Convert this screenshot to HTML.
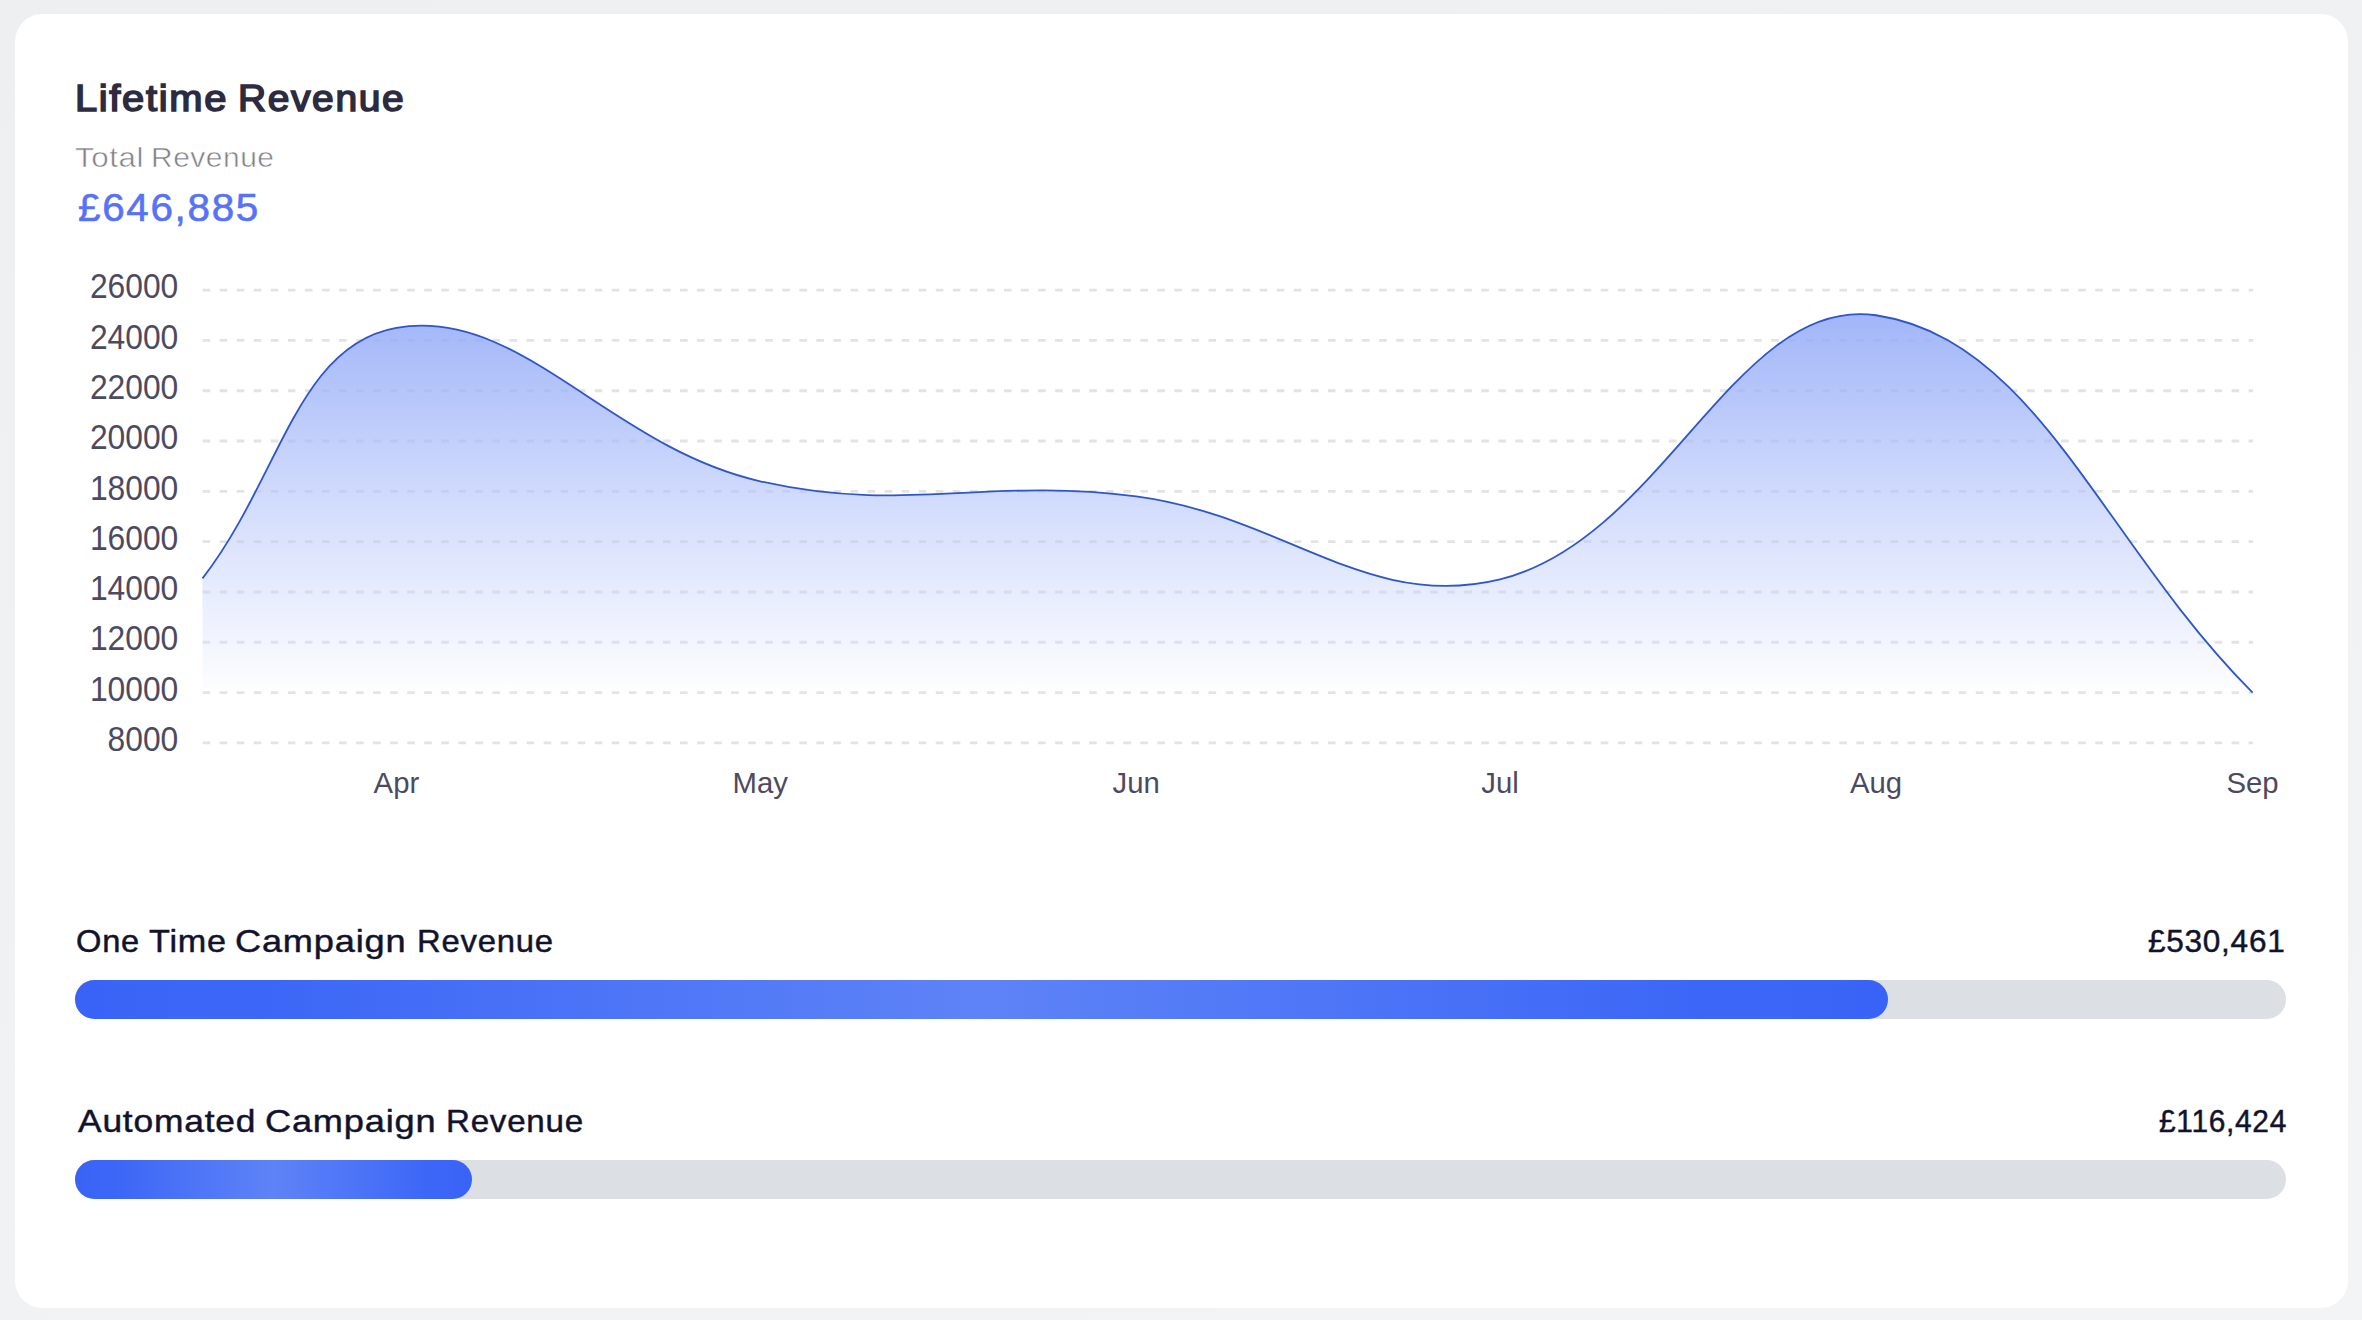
<!DOCTYPE html>
<html lang="en">
<head>
<meta charset="utf-8">
<title>Lifetime Revenue</title>
<style>
html,body{margin:0;padding:0;}
html{background:#f0f1f3;}
body{width:2362px;height:1320px;overflow:hidden;position:relative;
 font-family:"Liberation Sans",sans-serif;}
.bg{position:absolute;left:0;top:0;width:2362px;height:1320px;background:linear-gradient(164deg,#eeeff1 0%,#f3f4f6 100%);}
.ln{margin:0;padding:0;font-size:0;line-height:0;font-weight:400;}
.card{position:absolute;left:14.5px;top:14px;width:2333.5px;height:1294px;background:#fff;border-radius:27.5px;}
.t{position:absolute;white-space:nowrap;line-height:1;margin:0;transform-origin:0 0;}
.title{font-weight:400;color:#2c2b3f;-webkit-text-stroke:1.55px #2c2b3f;}
.sub{font-weight:400;color:#808085;-webkit-text-stroke:0.55px #fff;}
.amt{font-weight:400;color:#5872f7;-webkit-text-stroke:0.6px #5872f7;}
.lab{font-weight:400;color:#11132d;-webkit-text-stroke:0.45px #11132d;}
.track{position:absolute;left:75.2px;width:2210.8px;height:39px;border-radius:19.5px;background:#dcdfe4;}
.fill{position:absolute;left:0;top:0;height:39px;border-radius:19.5px;
 background:linear-gradient(90deg,#3863f6 0%,#3d68f6 12%,#5e83f7 50%,#3d68f6 88%,#3863f6 100%);}
svg{position:absolute;left:0;top:0;}
svg text{font-family:"Liberation Sans",sans-serif;fill:#4c4a61;}
</style>
</head>
<body>
<div class="bg"></div>
<div class="card"></div>
<h1 class="ln" id="title"><span class="t title" id="t1" style="left:75.26px;top:81.03px;font-size:36.0px;letter-spacing:1.5px;transform:scaleX(1.1081)">Lifetime</span> <span class="t title" id="t2" style="left:238.29px;top:81.03px;font-size:36.0px;letter-spacing:1.5px;transform:scaleX(1.0816)">Revenue</span></h1>
<p class="ln" id="sub"><span class="t sub" id="s1" style="left:75.21px;top:142.97px;font-size:28.5px;letter-spacing:0.5px;transform:scaleX(1.1000)">Total</span> <span class="t sub" id="s2" style="left:150.67px;top:142.97px;font-size:28.5px;letter-spacing:0.5px;transform:scaleX(1.0504)">Revenue</span></p>
<p class="ln" id="amt"><span class="t amt" id="a1" style="left:77.77px;top:189.41px;font-size:38.5px;letter-spacing:1.6px;transform:scaleX(1.0494)">£646,885</span></p>
<svg width="2362" height="1320" viewBox="0 0 2362 1320">
<defs>
<linearGradient id="ga" gradientUnits="userSpaceOnUse" x1="0" y1="314" x2="0" y2="706">
<stop offset="0.0000" stop-color="#92aaf8" stop-opacity="0.860"/>
<stop offset="0.0833" stop-color="#97aef8" stop-opacity="0.816"/>
<stop offset="0.1667" stop-color="#9cb1f9" stop-opacity="0.771"/>
<stop offset="0.2500" stop-color="#a1b5f9" stop-opacity="0.724"/>
<stop offset="0.3333" stop-color="#a6baf9" stop-opacity="0.674"/>
<stop offset="0.4167" stop-color="#acbefa" stop-opacity="0.622"/>
<stop offset="0.5000" stop-color="#b2c3fa" stop-opacity="0.567"/>
<stop offset="0.5833" stop-color="#b9c8fa" stop-opacity="0.509"/>
<stop offset="0.6667" stop-color="#c0cefb" stop-opacity="0.445"/>
<stop offset="0.7500" stop-color="#c9d4fb" stop-opacity="0.374"/>
<stop offset="0.8333" stop-color="#d3dcfc" stop-opacity="0.293"/>
<stop offset="0.9167" stop-color="#e0e6fd" stop-opacity="0.194"/>
<stop offset="1.0000" stop-color="#ffffff" stop-opacity="0.000"/>
</linearGradient>
</defs>
<g stroke="#e3e3e3" stroke-width="2.9" stroke-dasharray="7.6 9.45" fill="none">
<line x1="202.6" y1="290.10" x2="2253.0" y2="290.10"/>
<line x1="202.6" y1="340.41" x2="2253.0" y2="340.41"/>
<line x1="202.6" y1="390.72" x2="2253.0" y2="390.72"/>
<line x1="202.6" y1="441.03" x2="2253.0" y2="441.03"/>
<line x1="202.6" y1="491.34" x2="2253.0" y2="491.34"/>
<line x1="202.6" y1="541.65" x2="2253.0" y2="541.65"/>
<line x1="202.6" y1="591.96" x2="2253.0" y2="591.96"/>
<line x1="202.6" y1="642.27" x2="2253.0" y2="642.27"/>
<line x1="202.6" y1="692.58" x2="2253.0" y2="692.58"/>
<line x1="202.6" y1="742.89" x2="2253.0" y2="742.89"/>
</g>
<path d="M202.5,578.40 C280.06,478.17 297.09,345.13 396.4,327.83 C520.17,306.28 608.68,446.76 760.2,481.28 C904.60,514.18 987.62,476.67 1136.2,496.37 C1283.54,515.91 1367.38,611.85 1500.0,579.38 C1663.30,539.40 1736.64,294.29 1876.0,315.25 C2037.68,339.57 2101.96,541.65 2252.6,692.58 L2252.6,742.9 L202.5,742.9 Z" fill="url(#ga)" stroke="none"/>
<path d="M202.5,578.40 C280.06,478.17 297.09,345.13 396.4,327.83 C520.17,306.28 608.68,446.76 760.2,481.28 C904.60,514.18 987.62,476.67 1136.2,496.37 C1283.54,515.91 1367.38,611.85 1500.0,579.38 C1663.30,539.40 1736.64,294.29 1876.0,315.25 C2037.68,339.57 2101.96,541.65 2252.6,692.58" fill="none" stroke="#2d55ce" stroke-width="1.8" stroke-linejoin="round" stroke-linecap="butt"/>
<g font-size="34.2">
<text transform="translate(178.3,286.40) scale(0.93,1)" text-anchor="end" dominant-baseline="central">26000</text>
<text transform="translate(178.3,336.71) scale(0.93,1)" text-anchor="end" dominant-baseline="central">24000</text>
<text transform="translate(178.3,387.02) scale(0.93,1)" text-anchor="end" dominant-baseline="central">22000</text>
<text transform="translate(178.3,437.33) scale(0.93,1)" text-anchor="end" dominant-baseline="central">20000</text>
<text transform="translate(178.3,487.64) scale(0.93,1)" text-anchor="end" dominant-baseline="central">18000</text>
<text transform="translate(178.3,537.95) scale(0.93,1)" text-anchor="end" dominant-baseline="central">16000</text>
<text transform="translate(178.3,588.26) scale(0.93,1)" text-anchor="end" dominant-baseline="central">14000</text>
<text transform="translate(178.3,638.57) scale(0.93,1)" text-anchor="end" dominant-baseline="central">12000</text>
<text transform="translate(178.3,688.88) scale(0.93,1)" text-anchor="end" dominant-baseline="central">10000</text>
<text transform="translate(178.3,739.19) scale(0.93,1)" text-anchor="end" dominant-baseline="central">8000</text>
</g>
<g font-size="29.3">
<text x="396.4" y="793.4" text-anchor="middle">Apr</text>
<text x="760.2" y="793.4" text-anchor="middle">May</text>
<text x="1136.2" y="793.4" text-anchor="middle">Jun</text>
<text x="1500.0" y="793.4" text-anchor="middle">Jul</text>
<text x="1876.0" y="793.4" text-anchor="middle">Aug</text>
<text x="2252.6" y="793.4" text-anchor="middle">Sep</text>
</g>
</svg>
<p class="ln" id="row1"><span class="t lab" id="l1a" style="left:75.55px;top:925.88px;font-size:30.5px;letter-spacing:0.7px;transform:scaleX(1.0707)">One</span> <span class="t lab" id="l1b" style="left:149.36px;top:925.88px;font-size:30.5px;letter-spacing:0.7px;transform:scaleX(1.1206)">Time</span> <span class="t lab" id="l1c" style="left:234.81px;top:925.88px;font-size:30.5px;letter-spacing:0.7px;transform:scaleX(1.1852)">Campaign</span> <span class="t lab" id="l1d" style="left:416.64px;top:925.88px;font-size:30.5px;letter-spacing:0.7px;transform:scaleX(1.0766)">Revenue</span></p>
<p class="ln" id="val1"><span class="t lab" id="v1" style="left:2148.00px;top:925.88px;font-size:30.5px;letter-spacing:0.7px;transform:scaleX(1.0348)">£530,461</span></p>
<p class="ln" id="row2"><span class="t lab" id="l2a" style="left:77.51px;top:1105.88px;font-size:30.5px;letter-spacing:0.7px;transform:scaleX(1.1588)">Automated</span> <span class="t lab" id="l2b" style="left:265.47px;top:1105.88px;font-size:30.5px;letter-spacing:0.7px;transform:scaleX(1.1852)">Campaign</span> <span class="t lab" id="l2c" style="left:446.04px;top:1105.88px;font-size:30.5px;letter-spacing:0.7px;transform:scaleX(1.0855)">Revenue</span></p>
<p class="ln" id="val2"><span class="t lab" id="v2" style="left:2158.79px;top:1105.88px;font-size:30.5px;letter-spacing:0.7px;transform:scaleX(0.9800)">£116,424</span></p>
<div class="track" style="top:980.3px"><div class="fill" style="width:1812.6px"></div></div>
<div class="track" style="top:1160.2px"><div class="fill" style="width:397.2px"></div></div>
</body>
</html>
